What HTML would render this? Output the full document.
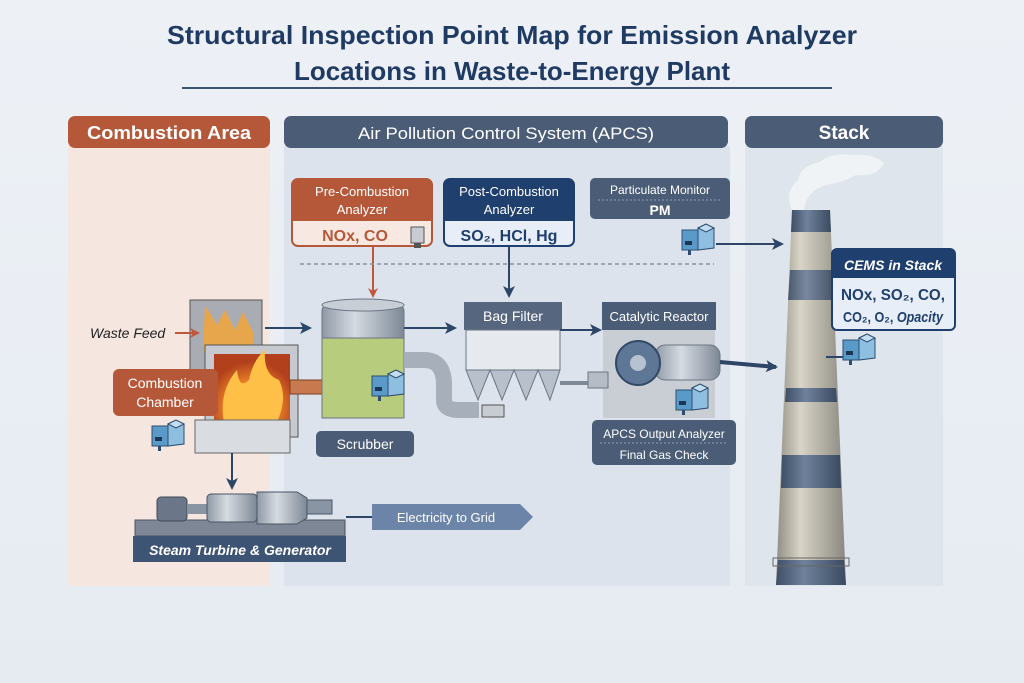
<!DOCTYPE html>
<html><head><meta charset="utf-8"><style>
html,body{margin:0;padding:0;background:#e9eef4;}
svg{display:block;font-family:"Liberation Sans",sans-serif;}
</style></head><body>
<svg width="1024" height="683" viewBox="0 0 1024 683">
<defs>
<linearGradient id="bg" x1="0" y1="0" x2="0" y2="1"><stop offset="0" stop-color="#edf1f6"/><stop offset="1" stop-color="#e6ebf2"/></linearGradient>
<linearGradient id="stk" x1="0" y1="0" x2="1" y2="0"><stop offset="0" stop-color="#8f8d84"/><stop offset="0.35" stop-color="#d8d4c6"/><stop offset="1" stop-color="#8a887f"/></linearGradient>
<linearGradient id="stkd" x1="0" y1="0" x2="1" y2="0"><stop offset="0" stop-color="#3f4f66"/><stop offset="0.4" stop-color="#6f819c"/><stop offset="1" stop-color="#3a4a60"/></linearGradient>
<linearGradient id="metal" x1="0" y1="0" x2="1" y2="0"><stop offset="0" stop-color="#8f99a6"/><stop offset="0.4" stop-color="#d6dbe2"/><stop offset="1" stop-color="#7d8896"/></linearGradient>
<radialGradient id="fire" cx="0.5" cy="0.7" r="0.6"><stop offset="0" stop-color="#ffd45a"/><stop offset="0.5" stop-color="#f08a2a"/><stop offset="1" stop-color="#b2401c"/></radialGradient>
<marker id="ao" markerWidth="10" markerHeight="10" refX="8" refY="5" orient="auto" markerUnits="userSpaceOnUse"><path d="M0,0 L10,5 L0,10 L3,5z" fill="#c0573a"/></marker>
<marker id="an" markerWidth="12" markerHeight="12" refX="10" refY="6" orient="auto" markerUnits="userSpaceOnUse"><path d="M0,0 L12,6 L0,12 L3,6z" fill="#2d4566"/></marker>
<g id="ana"><rect x="0" y="6" width="16" height="20" fill="#5a9ac8" stroke="#2c4d70"/><rect x="3" y="17" width="7" height="4" fill="#1e3555"/><path d="M16,4 L24,0 L32,4 L32,24 L16,26z" fill="#8fbfe0" stroke="#2c4d70"/><path d="M16,4 L24,0 L32,4 L24,8z" fill="#c3def0" stroke="#2c4d70"/><rect x="6" y="26" width="3" height="5" fill="#2c4d70"/></g>
</defs>
<rect width="1024" height="683" fill="url(#bg)"/>

<text x="512" y="44" text-anchor="middle" font-size="26" font-weight="bold" fill="#1f3a63" textLength="690" lengthAdjust="spacingAndGlyphs">Structural Inspection Point Map for Emission Analyzer</text>
<text x="512" y="80" text-anchor="middle" font-size="26" font-weight="bold" fill="#1f3a63" textLength="436" lengthAdjust="spacingAndGlyphs">Locations in Waste-to-Energy Plant</text>
<rect x="182" y="87" width="650" height="2" fill="#3d5170"/>

<rect x="68" y="146" width="202" height="440" fill="#f5e6df"/>
<rect x="284" y="146" width="446" height="440" fill="#dce3ec"/>
<rect x="745" y="146" width="198" height="440" fill="#dfe5ec"/>
<rect x="68" y="116" width="202" height="32" rx="7" fill="#b5583a"/>
<text x="169" y="139" text-anchor="middle" font-size="18" font-weight="bold" fill="#fff" textLength="164" lengthAdjust="spacingAndGlyphs">Combustion Area</text>
<rect x="284" y="116" width="444" height="32" rx="7" fill="#4a5c76"/>
<text x="506" y="139" text-anchor="middle" font-size="17" fill="#fff" textLength="296" lengthAdjust="spacingAndGlyphs">Air Pollution Control System (APCS)</text>
<rect x="745" y="116" width="198" height="32" rx="7" fill="#4a5c76"/>
<text x="844" y="139" text-anchor="middle" font-size="19" font-weight="bold" fill="#fff">Stack</text>

<rect x="292" y="179" width="140" height="67" rx="6" fill="#f7e9e1" stroke="#b5583a" stroke-width="2"/>
<path d="M292,221 V185 a6,6 0 0 1 6,-6 H426 a6,6 0 0 1 6,6 V221z" fill="#b5583a"/>
<text x="362" y="196" text-anchor="middle" font-size="13" fill="#fff">Pre-Combustion</text>
<text x="362" y="214" text-anchor="middle" font-size="13" fill="#fff">Analyzer</text>
<text x="355" y="241" text-anchor="middle" font-size="16" font-weight="bold" fill="#b5583a">NOx, CO</text>
<rect x="411" y="227" width="13" height="16" fill="#c8ccd2" stroke="#555"/><rect x="414" y="243" width="7" height="5" fill="#555"/>
<line x1="373" y1="246" x2="373" y2="296" stroke="#c0573a" stroke-width="2" marker-end="url(#ao)"/>

<rect x="444" y="179" width="130" height="67" rx="6" fill="#e7eef7" stroke="#1f3f6e" stroke-width="2"/>
<path d="M444,221 V185 a6,6 0 0 1 6,-6 H568 a6,6 0 0 1 6,6 V221z" fill="#1f3f6e"/>
<text x="509" y="196" text-anchor="middle" font-size="13" fill="#fff">Post-Combustion</text>
<text x="509" y="214" text-anchor="middle" font-size="13" fill="#fff">Analyzer</text>
<text x="509" y="241" text-anchor="middle" font-size="16" font-weight="bold" fill="#1f3f6e">SO₂, HCl, Hg</text>
<line x1="509" y1="246" x2="509" y2="296" stroke="#2d4566" stroke-width="2" marker-end="url(#an)"/>

<rect x="590" y="178" width="140" height="41" rx="5" fill="#4a5c76"/>
<text x="660" y="194" text-anchor="middle" font-size="12" fill="#fff">Particulate Monitor</text>
<line x1="598" y1="200" x2="722" y2="200" stroke="#8da0b8" stroke-dasharray="2,2"/>
<text x="660" y="215" text-anchor="middle" font-size="14" font-weight="bold" fill="#fff">PM</text>
<use href="#ana" x="682" y="224"/>
<line x1="716" y1="244" x2="782" y2="244" stroke="#2d4566" stroke-width="2" marker-end="url(#an)"/>

<line x1="300" y1="264" x2="714" y2="264" stroke="#8593a6" stroke-width="1.5" stroke-dasharray="4,3"/>

<rect x="190" y="300" width="72" height="80" fill="#a9adb3" stroke="#555"/>
<path d="M205,305 l12,20 l8,-15 l10,20 l8,-18 l10,20 v20 h-50z" fill="#f2a43a" opacity=".85"/>
<rect x="205" y="345" width="93" height="92" fill="#c6cad0" stroke="#555"/>
<rect x="214" y="354" width="76" height="76" fill="url(#fire)"/>
<path d="M225,428 q-8,-35 12,-58 q2,20 12,10 q4,-20 16,-30 q-2,25 14,30 q10,20 -5,48z" fill="#ffc048"/>
<rect x="195" y="420" width="95" height="33" fill="#d9dce0" stroke="#666"/>
<path d="M290,380 h45 l12,7 l-12,7 h-45z" fill="#c8794d" stroke="#7a3f22"/>
<line x1="265" y1="328" x2="310" y2="328" stroke="#2d4566" stroke-width="2" marker-end="url(#an)"/>
<text x="90" y="338" font-size="14" font-style="italic" fill="#222">Waste Feed</text>
<line x1="175" y1="333" x2="198" y2="333" stroke="#c0573a" stroke-width="2" marker-end="url(#ao)"/>
<rect x="113" y="369" width="105" height="47" rx="6" fill="#b5583a"/>
<text x="165" y="388" text-anchor="middle" font-size="14" fill="#fff">Combustion</text>
<text x="165" y="407" text-anchor="middle" font-size="14" fill="#fff">Chamber</text>
<use href="#ana" x="152" y="420"/>
<line x1="232" y1="453" x2="232" y2="488" stroke="#2d4566" stroke-width="2" marker-end="url(#an)"/>

<rect x="135" y="520" width="210" height="16" fill="#7d8796" stroke="#4a5566"/>
<rect x="157" y="497" width="30" height="24" rx="4" fill="#6b7789" stroke="#3e4858"/>
<rect x="187" y="504" width="20" height="10" fill="#8a95a4"/>
<rect x="207" y="494" width="50" height="28" rx="4" fill="url(#metal)" stroke="#4a5566"/>
<path d="M257,492 h40 l10,6 v20 l-10,6 h-40z" fill="url(#metal)" stroke="#4a5566"/>
<rect x="307" y="500" width="25" height="14" fill="#8a95a4" stroke="#4a5566"/>
<rect x="133" y="536" width="213" height="26" fill="#3e5475"/>
<text x="240" y="555" text-anchor="middle" font-size="14" font-style="italic" font-weight="bold" fill="#fff">Steam Turbine &amp; Generator</text>
<line x1="346" y1="517" x2="372" y2="517" stroke="#2d4566" stroke-width="2"/>
<path d="M372,504 H520 L533,517 L520,530 H372z" fill="#6b84a8"/>
<text x="446" y="522" text-anchor="middle" font-size="13" fill="#fff">Electricity to Grid</text>

<rect x="322" y="305" width="82" height="38" rx="6" fill="url(#metal)" stroke="#6b7583"/>
<rect x="322" y="338" width="82" height="80" fill="#b8cc7e" stroke="#6b7583"/>
<ellipse cx="363" cy="305" rx="41" ry="6" fill="#c8ced6" stroke="#6b7583"/>
<path d="M404,360 h20 q20,0 20,25 v15 q0,10 15,10 h20" fill="none" stroke="#a7afba" stroke-width="16"/>
<use href="#ana" x="372" y="370"/>
<line x1="404" y1="328" x2="455" y2="328" stroke="#2d4566" stroke-width="2" marker-end="url(#an)"/>
<rect x="316" y="431" width="98" height="26" rx="5" fill="#4a5c76"/>
<text x="365" y="449" text-anchor="middle" font-size="14" fill="#fff">Scrubber</text>

<rect x="464" y="302" width="98" height="28" fill="#56667e"/>
<text x="513" y="321" text-anchor="middle" font-size="14" fill="#fff">Bag Filter</text>
<rect x="466" y="330" width="94" height="40" fill="#e6eaef" stroke="#6b7583"/>
<path d="M466,370 l12,30 l12,-30 l12,30 l12,-30 l12,30 l12,-30 l12,30 l10,-30z" fill="#b8c0cb" stroke="#6b7583"/>
<rect x="482" y="405" width="22" height="12" fill="#c7ccd3" stroke="#555"/>
<line x1="560" y1="330" x2="600" y2="330" stroke="#2d4566" stroke-width="2" marker-end="url(#an)"/>
<line x1="560" y1="383" x2="592" y2="383" stroke="#7d8796" stroke-width="4"/>

<rect x="602" y="302" width="114" height="28" fill="#4a5c76"/>
<text x="659" y="321" text-anchor="middle" font-size="13" fill="#fff">Catalytic Reactor</text>
<rect x="603" y="330" width="112" height="88" fill="#c9ced5"/>
<rect x="588" y="372" width="20" height="16" fill="#b5bcc6" stroke="#6b7583"/>
<rect x="655" y="345" width="65" height="35" rx="10" fill="url(#metal)" stroke="#6b7583"/>
<circle cx="638" cy="363" r="22" fill="#5f7797" stroke="#334a66" stroke-width="2"/>
<circle cx="638" cy="363" r="8" fill="#b7c2d0"/>
<use href="#ana" x="676" y="384"/>
<line x1="720" y1="362" x2="776" y2="367" stroke="#2d4566" stroke-width="4" marker-end="url(#an)"/>
<rect x="592" y="420" width="144" height="45" rx="5" fill="#4a5c76"/>
<text x="664" y="438" text-anchor="middle" font-size="12" fill="#fff">APCS Output Analyzer</text>
<line x1="600" y1="443" x2="728" y2="443" stroke="#8da0b8" stroke-dasharray="2,2"/>
<text x="664" y="459" text-anchor="middle" font-size="12" fill="#fff">Final Gas Check</text>

<path d="M792,210 q-8,-18 6,-30 q2,-14 22,-18 q12,-10 32,-7 q20,-2 32,8 q-6,14 -28,12 q-14,8 -30,10 q-20,6 -22,25z" fill="#f2f4f6" opacity=".9"/>
<path d="M792,210 H830 L846,585 H776z" fill="url(#stk)"/>
<path d="M792,210 H830 L831,232 H791z" fill="url(#stkd)"/>
<path d="M790,270 H832 L834,300 H788z" fill="url(#stkd)" opacity=".9"/>
<path d="M786,388 H836 L837,402 H785z" fill="url(#stkd)"/>
<path d="M782,455 H840 L841,488 H781z" fill="url(#stkd)"/>
<path d="M778,560 H844 L846,585 H776z" fill="url(#stkd)"/>
<rect x="773" y="558" width="76" height="8" fill="none" stroke="#666"/>

<rect x="832" y="249" width="123" height="81" rx="5" fill="#e7eef7" stroke="#1f3f6e" stroke-width="2"/>
<path d="M832,278 V254 a5,5 0 0 1 5,-5 H950 a5,5 0 0 1 5,5 V278z" fill="#1f3f6e"/>
<text x="893" y="270" text-anchor="middle" font-size="14" font-style="italic" font-weight="bold" fill="#fff">CEMS in Stack</text>
<text x="893" y="300" text-anchor="middle" font-size="16" font-weight="bold" fill="#1f3f6e" textLength="104" lengthAdjust="spacingAndGlyphs">NOx, SO₂, CO,</text>
<text x="893" y="322" text-anchor="middle" font-size="15" font-weight="bold" fill="#1f3f6e" textLength="100" lengthAdjust="spacingAndGlyphs">CO₂, O₂, <tspan font-style="italic">Opacity</tspan></text>
<use href="#ana" x="843" y="334"/>
<line x1="826" y1="357" x2="843" y2="357" stroke="#2d4566" stroke-width="2"/>
</svg>
</body></html>
